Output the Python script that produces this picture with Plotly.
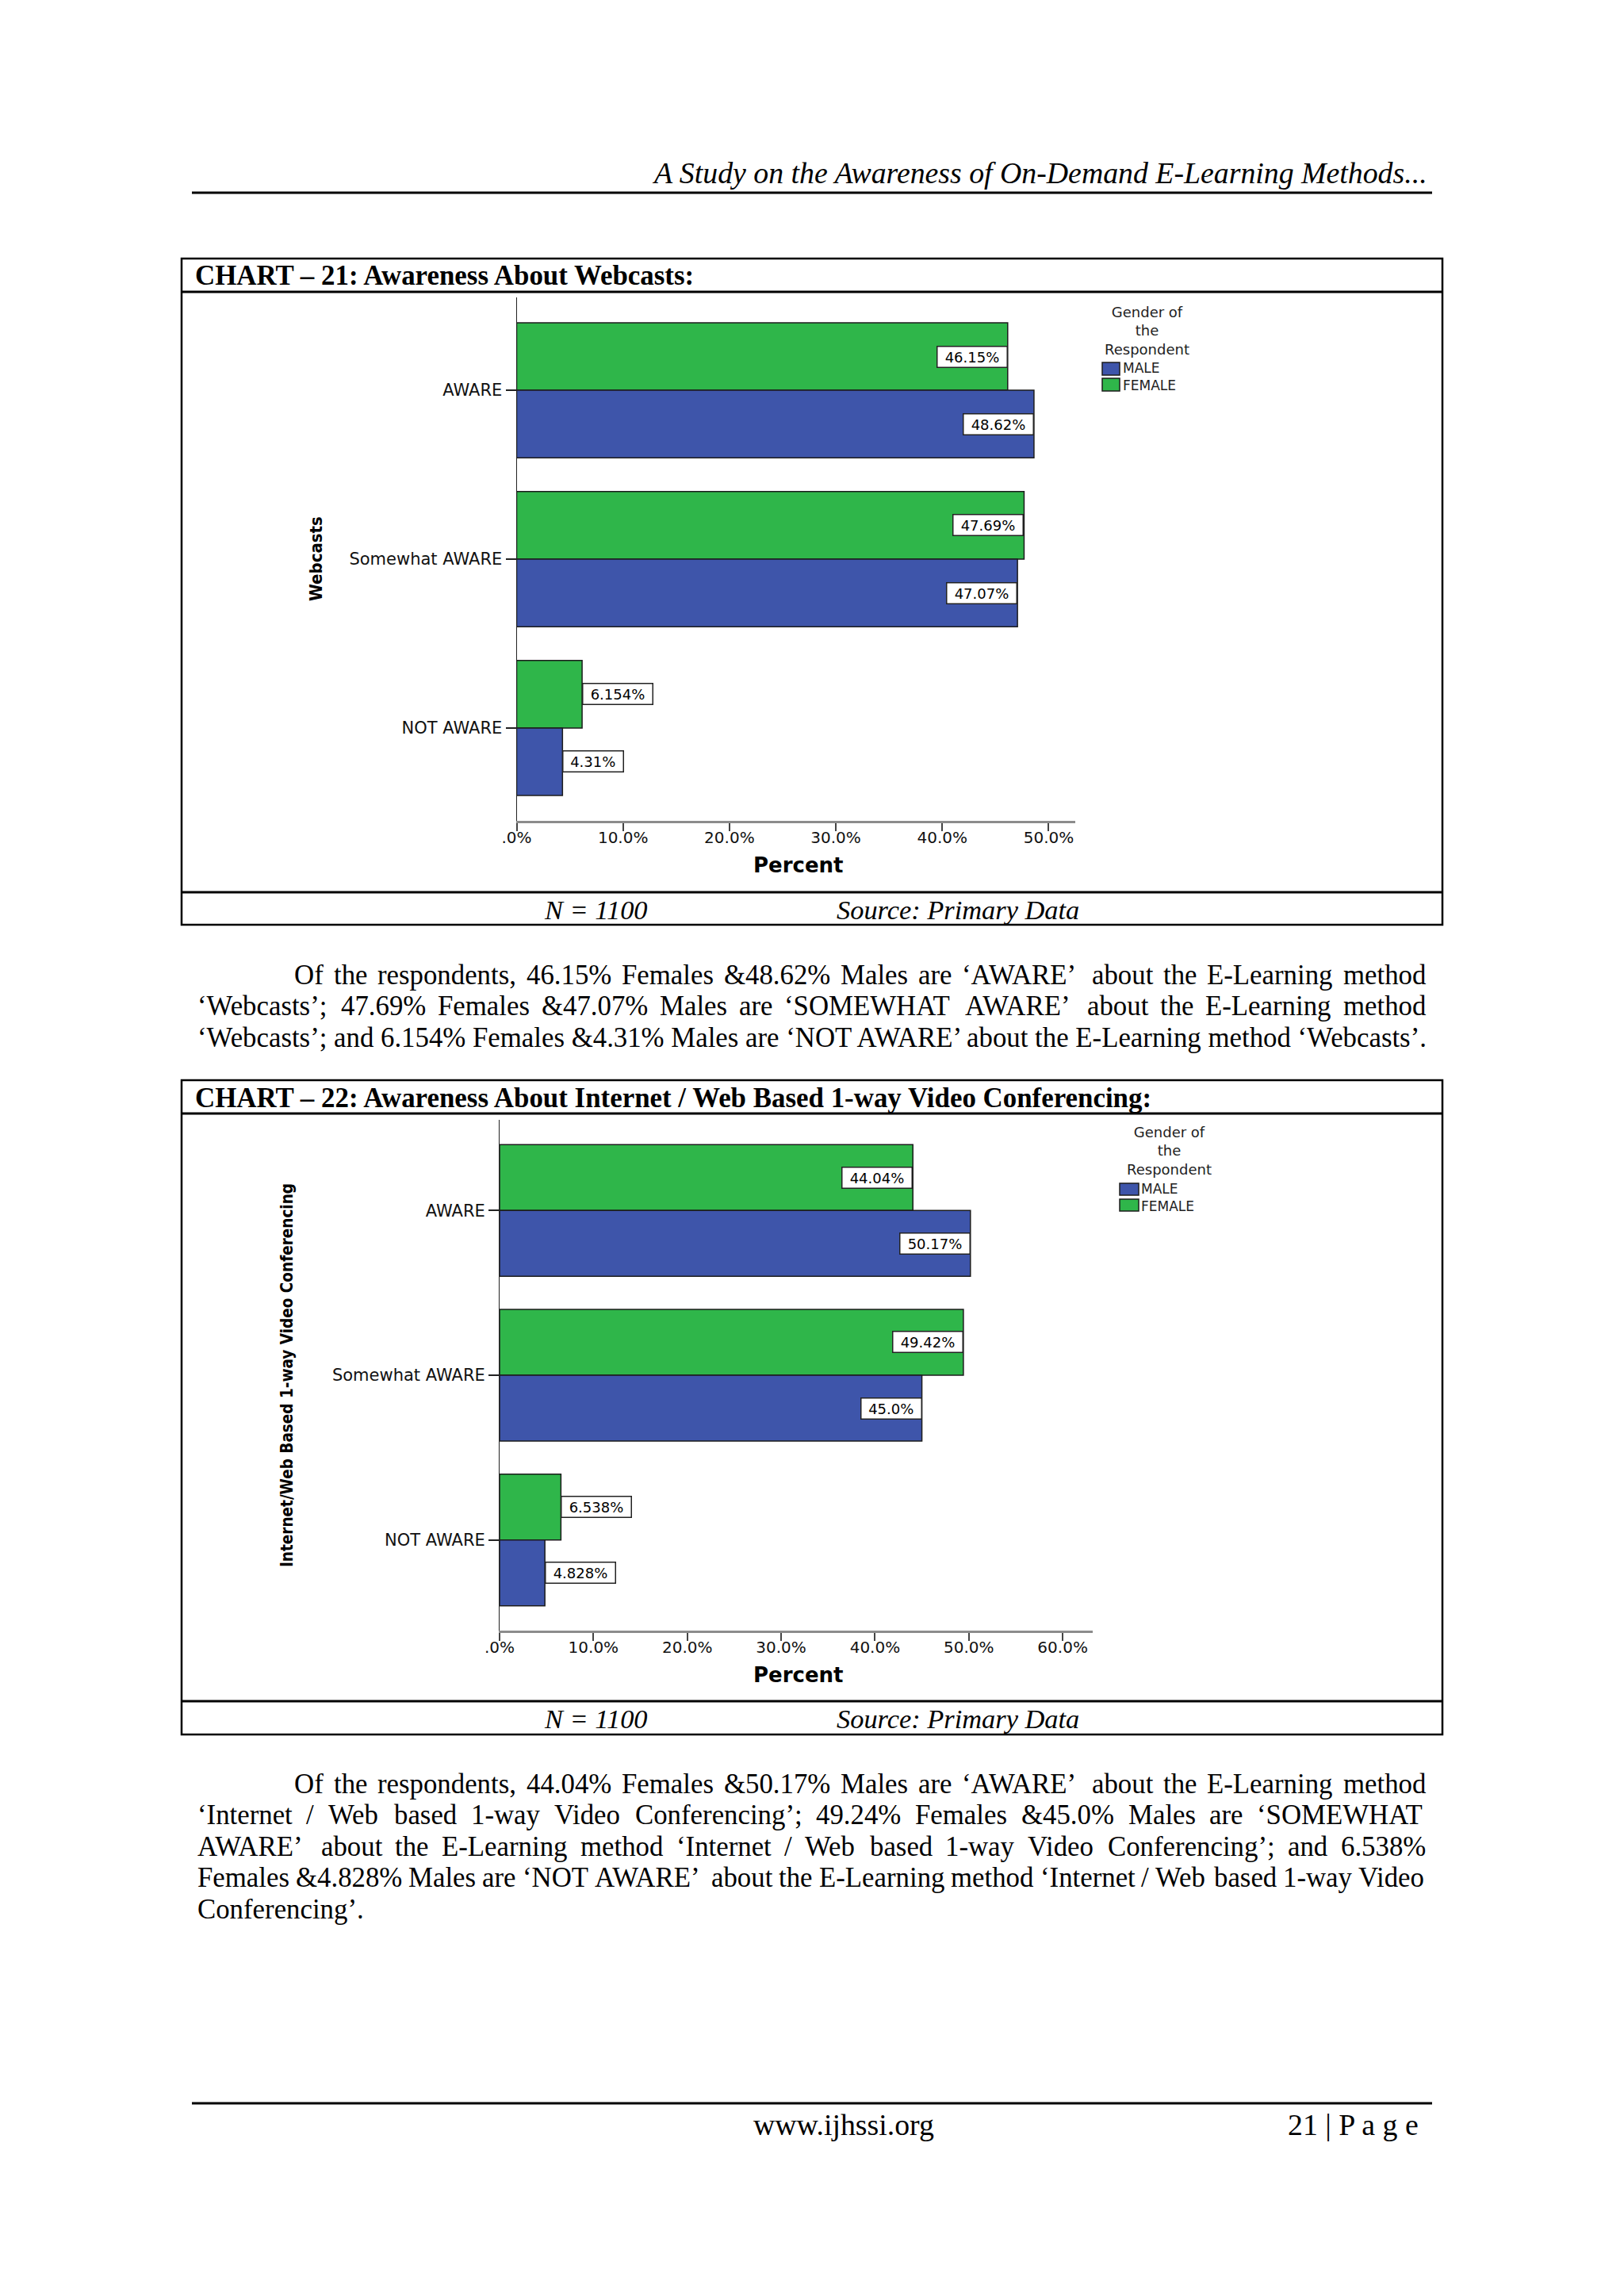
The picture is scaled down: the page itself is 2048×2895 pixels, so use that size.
import plotly.graph_objects as go

# ---------------- data ----------------
categories = ["AWARE", "Somewhat AWARE", "NOT AWARE"]
series_names = ["MALE", "FEMALE"]

webcasts_male = [48.62, 47.07, 4.31]
webcasts_female = [46.15, 47.69, 6.154]
webcasts_male_labels = ["48.62%", "47.07%", "4.31%"]
webcasts_female_labels = ["46.15%", "47.69%", "6.154%"]

video_male = [50.17, 45.0, 4.828]
video_female = [44.04, 49.42, 6.538]
video_male_labels = ["50.17%", "45.0%", "4.828%"]
video_female_labels = ["44.04%", "49.42%", "6.538%"]

webcasts_tickvals = [0, 10, 20, 30, 40, 50]
webcasts_ticktext = [".0%", "10.0%", "20.0%", "30.0%", "40.0%", "50.0%"]
video_tickvals = [0, 10, 20, 30, 40, 50, 60]
video_ticktext = [".0%", "10.0%", "20.0%", "30.0%", "40.0%", "50.0%", "60.0%"]

legend_title_lines = ["Gender of", "the", "Respondent"]

header_text = "A Study on the Awareness of On-Demand E-Learning Methods..."
chart21_title = "CHART \u2013 21: Awareness About Webcasts:"
chart22_title = "CHART \u2013 22: Awareness About Internet / Web Based 1-way Video Conferencing:"
chart21_ytitle = "Webcasts"
chart22_ytitle = "Internet/Web Based 1-way Video Conferencing"
x_title = "Percent"
caption_n = "N = 1100"
caption_src = "Source: Primary Data"
footer_site = "www.ijhssi.org"
footer_page = "21 | P a g e"

para1 = [
    "Of the respondents, 46.15% Females &48.62% Males are \u2018AWARE\u2019 about the E-Learning method",
    "\u2018Webcasts\u2019; 47.69% Females &47.07% Males are \u2018SOMEWHAT AWARE\u2019 about the E-Learning method",
    "\u2018Webcasts\u2019; and 6.154% Females &4.31% Males are \u2018NOT AWARE\u2019 about the E-Learning method \u2018Webcasts\u2019.",
]
para2 = [
    "Of the respondents, 44.04% Females &50.17% Males are \u2018AWARE\u2019 about the E-Learning method",
    "\u2018Internet / Web based 1-way Video Conferencing\u2019; 49.24% Females &45.0% Males are \u2018SOMEWHAT",
    "AWARE\u2019 about the E-Learning method \u2018Internet / Web based 1-way Video Conferencing\u2019; and 6.538%",
    "Females &4.828% Males are \u2018NOT AWARE\u2019 about the E-Learning method \u2018Internet / Web based 1-way Video",
    "Conferencing\u2019.",
]

# ---------------- styles ----------------
BLUE = "#3E55AA"
GREEN = "#2FB64A"
OUTLINE = "#1c1c1c"
SERIF = "Liberation Serif, Times New Roman, serif"
SANS = "DejaVu Sans, Verdana, sans-serif"
NARROW = "DejaVu Sans Condensed, Liberation Sans Narrow, DejaVu Sans, sans-serif"

PAGE_W, PAGE_H, OFF = 2048, 2895, 8
FIG_W, FIG_H = PAGE_W - 2 * OFF, PAGE_H - 2 * OFF


def X(p):
    return (p - OFF) / FIG_W


def Y(p):
    return 1 - (p - OFF) / FIG_H


annotations = []
shapes = []


def text(x, y, s, size, family=SERIF, xanchor="left", yanchor="middle",
         color="black", angle=0, align="left"):
    annotations.append(dict(
        x=X(x), y=Y(y), xref="paper", yref="paper", text=s, showarrow=False,
        xanchor=xanchor, yanchor=yanchor, textangle=angle, align=align,
        borderpad=0, borderwidth=0,
        font=dict(family=family, size=size, color=color)))


def hline(x0, x1, y, w=2.5, color="black"):
    shapes.append(dict(type="line", xref="paper", yref="paper",
                       x0=X(x0), x1=X(x1), y0=Y(y), y1=Y(y),
                       line=dict(color=color, width=w)))


def rect(x0, x1, y0, y1, fill=None, lc="black", lw=2):
    shapes.append(dict(type="rect", xref="paper", yref="paper",
                       x0=X(x0), x1=X(x1), y0=Y(y1), y1=Y(y0),
                       fillcolor=fill if fill else "rgba(0,0,0,0)",
                       line=dict(color=lc, width=lw)))


# Times New Roman / Liberation Serif advance widths (1/1000 em)
TW = {" ": 250, ".": 250, ",": 250, ";": 278, ":": 278, "%": 833, "&": 778,
      "-": 333, "/": 278, "\u2018": 333, "\u2019": 333, "'": 333}
TW.update({c: 500 for c in "0123456789"})
TW.update(dict(zip("abcdefghijklmnopqrstuvwxyz",
                   [444, 500, 444, 500, 444, 333, 500, 500, 278, 278, 500, 278, 778,
                    500, 500, 500, 500, 333, 389, 278, 500, 500, 722, 500, 500, 444])))
TW.update(dict(zip("ABCDEFGHIJKLMNOPQRSTUVWXYZ",
                   [722, 667, 667, 722, 611, 556, 722, 722, 333, 389, 722, 611, 889,
                    722, 722, 556, 722, 667, 556, 611, 722, 722, 944, 722, 722, 611])))


def tw(s, fs):
    return sum(TW.get(c, 500) for c in s) / 1000.0 * fs


def paragraph(lines, y_first, spacing, left, indent_left, right, fs):
    for i, line in enumerate(lines):
        y = y_first + i * spacing
        x0 = indent_left if i == 0 else left
        last = (i == len(lines) - 1)
        if last:
            text(x0, y, line, fs)
            continue
        words = line.split(" ")
        total = sum(tw(w, fs) for w in words)
        gap = (right - x0 - total) / (len(words) - 1)
        x = x0
        for w in words:
            text(x, y, w, fs)
            x += tw(w, fs) + gap


# ---------------- page furniture ----------------
BODY_FS = 34.8
text(1800, 218, "<i>" + header_text + "</i>", 37.8, xanchor="right")
hline(242, 1806, 243, w=3)

for (top, sep1, sep2, bottom, title, cap_y) in [
        (326, 368, 1125, 1166, chart21_title, 1147),
        (1362, 1404, 2145, 2187, chart22_title, 2167)]:
    rect(229, 1819, top, bottom, lw=2.5)
    hline(229, 1819, sep1, w=3)
    hline(229, 1819, sep2, w=3)
    text(246, (top + sep1) / 2 + 1, "<b>" + title + "</b>", 34.9)
    text(751, cap_y, "<i>" + caption_n + "</i>", 34.4, xanchor="center")
    text(1207.5, cap_y, "<i>" + caption_src + "</i>", 34.4, xanchor="center")

paragraph(para1, 1229, 39.6, 249, 371, 1798, BODY_FS)
paragraph(para2, 2249, 39.6, 249, 371, 1798, BODY_FS)

hline(242, 1806, 2652, w=3)
text(1064, 2679, footer_site, 37.8, xanchor="center")
text(1789, 2679, footer_page, 37.8, xanchor="right")

# ---------------- charts ----------------
charts = [
    dict(xa="x", ya="y", xd=(651.5, 1356), yd=(375, 1035), xmax=52.5,
         male=webcasts_male, female=webcasts_female,
         ml=webcasts_male_labels, fl=webcasts_female_labels,
         tv=webcasts_tickvals, tt=webcasts_ticktext,
         ytitle=chart21_ytitle, ytitle_pos=(398, 705), ytitle_fs=22,
         xtitle_y=1091,
         leg=dict(cx=1446.5, ty=417, sx=(1390, 1412),
                  rows=[(457, 473), (477, 493)], tx=1416)),
    dict(xa="x2", ya="y2", xd=(630, 1378), yd=(1412, 2056), xmax=63.2,
         male=video_male, female=video_female,
         ml=video_male_labels, fl=video_female_labels,
         tv=video_tickvals, tt=video_ticktext,
         ytitle=chart22_ytitle, ytitle_pos=(362, 1734), ytitle_fs=20.5,
         xtitle_y=2112,
         leg=dict(cx=1474, ty=1451, sx=(1412, 1436),
                  rows=[(1492, 1507), (1512, 1527)], tx=1439)),
]

fig = go.Figure()
layout_axes = {}
for ch in charts:
    # female first -> drawn above male on the reversed category axis
    fig.add_trace(go.Bar(y=categories, x=ch["female"], orientation="h", name=series_names[1],
                         marker=dict(color=GREEN, line=dict(color=OUTLINE, width=1.5)),
                         xaxis=ch["xa"], yaxis=ch["ya"], showlegend=False))
    fig.add_trace(go.Bar(y=categories, x=ch["male"], orientation="h", name=series_names[0],
                         marker=dict(color=BLUE, line=dict(color=OUTLINE, width=1.5)),
                         xaxis=ch["xa"], yaxis=ch["ya"], showlegend=False))
    xkey = "xaxis" if ch["xa"] == "x" else "xaxis2"
    ykey = "yaxis" if ch["ya"] == "y" else "yaxis2"
    layout_axes[xkey] = dict(
        domain=[X(ch["xd"][0]), X(ch["xd"][1])], range=[0, ch["xmax"]],
        tickmode="array", tickvals=ch["tv"], ticktext=ch["tt"],
        showline=True, linecolor="#8c8c8c", linewidth=2.5,
        ticks="outside", ticklen=10, tickwidth=1.5, tickcolor="#444",
        ticklabelstandoff=-9,
        showgrid=False, zeroline=False, anchor=ch["ya"], fixedrange=True,
        automargin=False,
        tickfont=dict(family=SANS, size=20, color="#111"))
    layout_axes[ykey] = dict(
        domain=[Y(ch["yd"][1]), Y(ch["yd"][0])], type="category",
        categoryorder="array", categoryarray=categories, range=[2.55, -0.55],
        showline=True, linecolor="#222", linewidth=1,
        ticks="outside", ticklen=13, tickwidth=1.5, tickcolor="#222",
        showgrid=False, zeroline=False, anchor=ch["xa"], fixedrange=True,
        automargin=False,
        tickfont=dict(family=SANS, size=21, color="#111"))

    # value labels (boxed)
    for vals, labs, off in [(ch["female"], ch["fl"], -0.2), (ch["male"], ch["ml"], 0.2)]:
        for i, (v, lab) in enumerate(zip(vals, labs)):
            inside = v > 15
            annotations.append(dict(
                x=v, y=i + off, xref=ch["xa"], yref=ch["ya"], text=lab,
                showarrow=False, xanchor="right" if inside else "left",
                yanchor="middle", bgcolor="white", bordercolor="#222",
                borderwidth=1.5, borderpad=2, width=12.5 * len(lab) + 8, height=21,
                align="center",
                font=dict(family=SANS, size=18, color="black")))

    # axis titles
    text(ch["ytitle_pos"][0], ch["ytitle_pos"][1], "<b>" + ch["ytitle"] + "</b>",
         ch["ytitle_fs"], family=NARROW, xanchor="center", angle=-90)
    text((ch["xd"][0] + ch["xd"][1]) / 2 + 3, ch["xtitle_y"], "<b>" + x_title + "</b>",
         26, family=SANS, xanchor="center")

    # legend (custom)
    lg = ch["leg"]
    text(lg["cx"], lg["ty"], "<br>".join(legend_title_lines), 18, family=SANS,
         xanchor="center", color="#222", align="center")
    for (y0, y1), col in zip(lg["rows"], [BLUE, GREEN]):
        rect(lg["sx"][0], lg["sx"][1], y0, y1, fill=col, lc=OUTLINE, lw=1.5)
    ymid = (lg["rows"][0][0] + lg["rows"][1][1]) / 2
    text(lg["tx"], ymid, "<br>".join(series_names), 17, family=SANS, color="#222")

fig.update_layout(
    template="none",
    width=FIG_W, height=FIG_H, autosize=False,
    margin=dict(l=0, r=0, t=0, b=0, pad=0, autoexpand=False),
    paper_bgcolor="white", plot_bgcolor="white",
    barmode="group", bargap=0.2, bargroupgap=0,
    showlegend=False,
    annotations=annotations, shapes=shapes,
    **layout_axes,
)

fig.write_html("out.html", config={"displayModeBar": False})
